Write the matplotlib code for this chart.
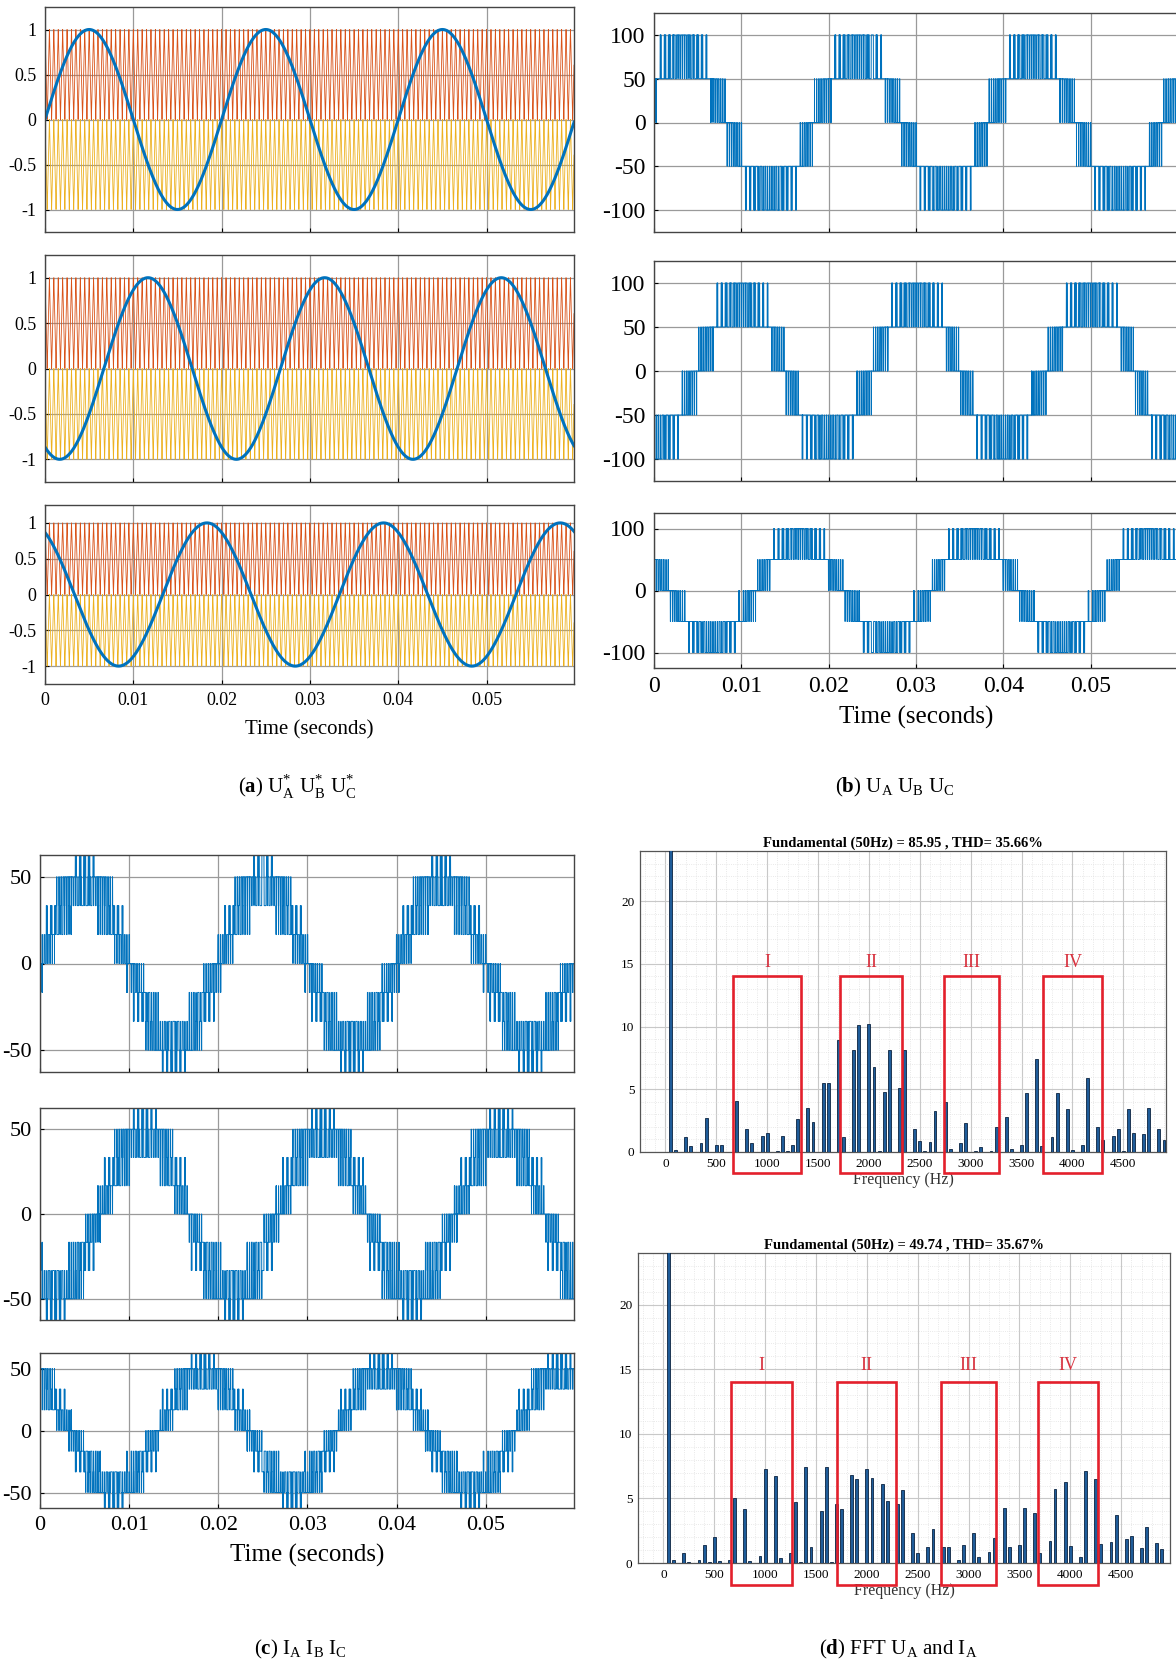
import numpy as np
import matplotlib.pyplot as plt
from matplotlib.patches import Rectangle
from matplotlib.ticker import MultipleLocator

plt.rcParams['font.family'] = ['Liberation Serif', 'DejaVu Serif']
plt.rcParams['axes.unicode_minus'] = False
plt.rcParams['mathtext.fontset'] = 'custom'
plt.rcParams['mathtext.rm'] = 'Liberation Serif'
plt.rcParams['mathtext.bf'] = 'Liberation Serif:bold'

F0 = 50                      # Hz, reference
FC = 2000                    # Hz, carrier
phase_deg = [0, -120, 120]   # A, B, C
V_STEP = 50                  # volts per level
T_END = 0.06
DT = 1e-6

# --- FFT of U_A (d, top): frequency [Hz], magnitude [% of fundamental] ---
ua_freq = [50, 100, 200, 250, 350, 400, 500, 550, 700, 800, 850, 950, 1000, 1100,
           1150, 1200, 1250, 1300, 1400, 1450, 1550, 1600, 1700, 1750, 1850, 1900,
           2000, 2050, 2100, 2150, 2200, 2300, 2350, 2450, 2500, 2550, 2600, 2650,
           2750, 2800, 2900, 2950, 3050, 3100, 3200, 3250, 3350, 3400, 3500, 3550,
           3650, 3700, 3800, 3850, 3950, 4000, 4100, 4150, 4250, 4300, 4400, 4450,
           4500, 4550, 4600, 4700, 4750, 4850, 4900]
ua_mag = [100, 0.15, 1.2, 0.5, 0.7, 2.75, 0.55, 0.55, 4.1, 1.8, 0.75, 1.3, 1.55, 0.1,
          1.3, 0.1, 0.55, 2.6, 3.5, 2.4, 5.5, 5.5, 8.9, 1.2, 8.1, 10.1,
          10.2, 6.8, 0.05, 4.8, 8.1, 5.1, 8.1, 1.8, 0.85, 0.05, 0.8, 3.3,
          4.0, 0.2, 0.75, 2.3, 0.1, 0.4, 0.05, 2.0, 2.8, 0.2, 0.55, 4.7,
          7.4, 0.5, 1.2, 4.7, 3.4, 0.15, 0.55, 5.9, 2.0, 0.95, 1.25, 1.8,
          0.05, 3.4, 1.5, 1.4, 3.5, 1.85, 0.95]

# --- FFT of I_A (d, bottom) ---
ia_freq = [50, 100, 200, 250, 350, 400, 450, 500, 550, 650, 700, 800, 850, 950, 1000,
           1100, 1150, 1250, 1300, 1350, 1400, 1450, 1550, 1600, 1650, 1700, 1750,
           1850, 1900, 2000, 2050, 2150, 2200, 2300, 2350, 2450, 2500, 2600, 2650,
           2750, 2800, 2900, 2950, 3050, 3100, 3200, 3250, 3350, 3400, 3500, 3550,
           3650, 3700, 3800, 3850, 3950, 4000, 4100, 4150, 4250, 4300, 4400, 4450,
           4550, 4600, 4700, 4750, 4850, 4900]
ia_mag = [100, 0.25, 0.75, 0.05, 0.2, 1.4, 0.05, 2.0, 0.15, 0.2, 5.0, 4.2, 0.15, 0.55, 7.3,
          6.7, 0.35, 0.8, 4.7, 0.05, 7.4, 1.25, 4.0, 7.4, 0.05, 4.6, 4.2,
          6.85, 6.5, 7.3, 6.6, 6.1, 4.8, 4.6, 5.65, 2.3, 0.8, 1.25, 2.6,
          1.25, 1.25, 0.2, 1.4, 2.3, 0.45, 0.85, 1.95, 4.25, 1.25, 1.4, 4.25,
          3.9, 0.8, 1.7, 5.7, 6.3, 1.3, 0.5, 7.1, 6.5, 1.45, 1.6, 3.7,
          1.85, 2.1, 1.15, 2.8, 1.55, 1.1]

# highlighted bands (Hz) and their labels
band_labels = ['I', 'II', 'III', 'IV']
ua_bands = [(661, 1335), (1717, 2328), (2736, 3281), (3711, 4289)]
ia_bands = [(668, 1261), (1710, 2284), (2730, 3272), (3678, 4274)]
ua_title = 'Fundamental (50Hz) = 85.95 , THD= 35.66%'
ia_title = 'Fundamental (50Hz) = 49.74 , THD= 35.67%'

# --- build the waveforms ---
t = np.arange(0, T_END, DT)
tv = np.arange(0, T_END + 1 / FC, 1 / (2 * FC))
up_v = np.where(np.arange(len(tv)) % 2 == 0, 1.0, 0.0)
car_up = np.interp(t, tv, up_v)
car_dn = car_up - 1

refs = [np.sin(2 * np.pi * F0 * t + np.deg2rad(p)) for p in phase_deg]
legs = [V_STEP * ((r > car_up).astype(float) - (r < car_dn).astype(float)) for r in refs]
line_v = [legs[0] - legs[1], legs[1] - legs[2], legs[2] - legs[0]]
phase_i = [(2 * legs[k] - legs[(k + 1) % 3] - legs[(k + 2) % 3]) / 3 for k in range(3)]

W, H = 1176, 1666
fig = plt.figure(figsize=(W / 100, H / 100), dpi=100)


def px_axes(x0, y0, x1, y1):
    return fig.add_axes([x0 / W, 1 - y1 / H, (x1 - x0) / W, (y1 - y0) / H])


def time_axes(ax, fs, show_x):
    ax.set_xlim(0, 0.0599)
    ax.set_xticks([0, 0.01, 0.02, 0.03, 0.04, 0.05])
    ax.grid(True, color='#9a9a9a', lw=0.9)
    ax.set_axisbelow(True)
    ax.tick_params(direction='in', length=3, labelsize=fs, pad=6)
    for s in ax.spines.values():
        s.set_color('#444444')
        s.set_linewidth(1.0)
    if show_x:
        ax.set_xticklabels(['0', '0.01', '0.02', '0.03', '0.04', '0.05'])
    else:
        ax.set_xticklabels([])


BLUE = '#0072BD'

# (a) references and carriers
a_rows = [(7, 232), (255, 482), (505, 684)]
for k, (y0, y1) in enumerate(a_rows):
    ax = px_axes(45, y0, 574, y1)
    ax.plot(t, car_up, color='#D95319', lw=0.6)
    ax.plot(t, car_dn, color='#EDB120', lw=0.6)
    ax.plot(t, refs[k], color=BLUE, lw=2.2)
    ax.set_ylim(-1.25, 1.25)
    ax.set_yticks([1, 0.5, 0, -0.5, -1])
    ax.set_yticklabels(['1', '0.5', '0', '-0.5', '-1'])
    time_axes(ax, 13, k == 2)
    if k == 2:
        ax.set_xlabel('Time (seconds)', fontsize=15, labelpad=8)

# (b) line voltages
b_rows = [(13, 232), (261, 481), (513, 668)]
for k, (y0, y1) in enumerate(b_rows):
    ax = px_axes(654, y0, 1178, y1)
    ax.plot(t, line_v[k], color=BLUE, lw=0.7)
    ax.set_ylim(-125, 125)
    ax.set_yticks([100, 50, 0, -50, -100] if k < 2 else [100, 0, -100])
    time_axes(ax, 17, k == 2)
    ax.set_xlim(0, 0.06)
    if k == 2:
        ax.set_xlabel('Time (seconds)', fontsize=18, labelpad=6)

# (c) phase currents
c_rows = [(855, 1072), (1108, 1320), (1353, 1508)]
for k, (y0, y1) in enumerate(c_rows):
    ax = px_axes(40, y0, 574, y1)
    ax.plot(t, phase_i[k], color=BLUE, lw=0.7)
    ax.set_ylim(-62.5, 62.5)
    ax.set_yticks([50, 0, -50])
    time_axes(ax, 16, k == 2)
    if k == 2:
        ax.set_xlabel('Time (seconds)', fontsize=18, labelpad=6)

# (d) FFT spectra
d_specs = [((640, 851, 1166, 1152), ua_freq, ua_mag, ua_bands, ua_title, 4920, 15.1),
           ((638, 1253, 1170, 1563), ia_freq, ia_mag, ia_bands, ia_title, 4980, 15.3)]
for (x0, y0, x1, y1), fr, mg, bands, title, xmax, ly in d_specs:
    ax = px_axes(x0, y0, x1, y1)
    ax.bar(fr, mg, width=28, color='#1f5c99', edgecolor='#0b2340', lw=0.6, zorder=3)
    ax.set_xlim(-250, xmax)
    ax.set_ylim(0, 24)
    ax.set_xticks(range(0, 5000, 500))
    ax.set_yticks([0, 5, 10, 15, 20])
    ax.xaxis.set_minor_locator(MultipleLocator(100))
    ax.yaxis.set_minor_locator(MultipleLocator(1))
    ax.grid(True, which='major', color='#c8c8c8', lw=0.8)
    ax.grid(True, which='minor', color='#e2e2e2', lw=0.6, ls=':')
    ax.set_axisbelow(True)
    ax.tick_params(which='both', direction='in', length=0, labelsize=9.5, pad=4)
    for s in ax.spines.values():
        s.set_color('#555555')
        s.set_linewidth(0.9)
    ax.set_title(title, fontsize=10.5, fontweight='bold', pad=3)
    ax.set_xlabel('Frequency (Hz)', fontsize=11.5, labelpad=2, color='#333333')
    for lab, (f0, f1) in zip(band_labels, bands):
        ax.add_patch(Rectangle((f0, -1.7), f1 - f0, 14.0 + 1.7, fill=False,
                               edgecolor='#e3202c', lw=1.9, clip_on=False, zorder=4))
        ax.text((f0 + f1) / 2, ly, lab, color='#d8323f', fontsize=13,
                ha='center', va='center')

# captions
cap_fs = 15
fig.text(297 / W, 1 - 787 / H, r'($\mathbf{a}$) U$^{*}_{\rm A}$ U$^{*}_{\rm B}$ U$^{*}_{\rm C}$',
         ha='center', va='center', fontsize=cap_fs)
fig.text(895 / W, 1 - 787 / H, r'($\mathbf{b}$) U$_{\rm A}$ U$_{\rm B}$ U$_{\rm C}$',
         ha='center', va='center', fontsize=cap_fs)
fig.text(300 / W, 1 - 1649 / H, r'($\mathbf{c}$) I$_{\rm A}$ I$_{\rm B}$ I$_{\rm C}$',
         ha='center', va='center', fontsize=cap_fs)
fig.text(898 / W, 1 - 1649 / H, r'($\mathbf{d}$) FFT U$_{\rm A}$ and I$_{\rm A}$',
         ha='center', va='center', fontsize=cap_fs)

fig.savefig('out.png', dpi=100)
